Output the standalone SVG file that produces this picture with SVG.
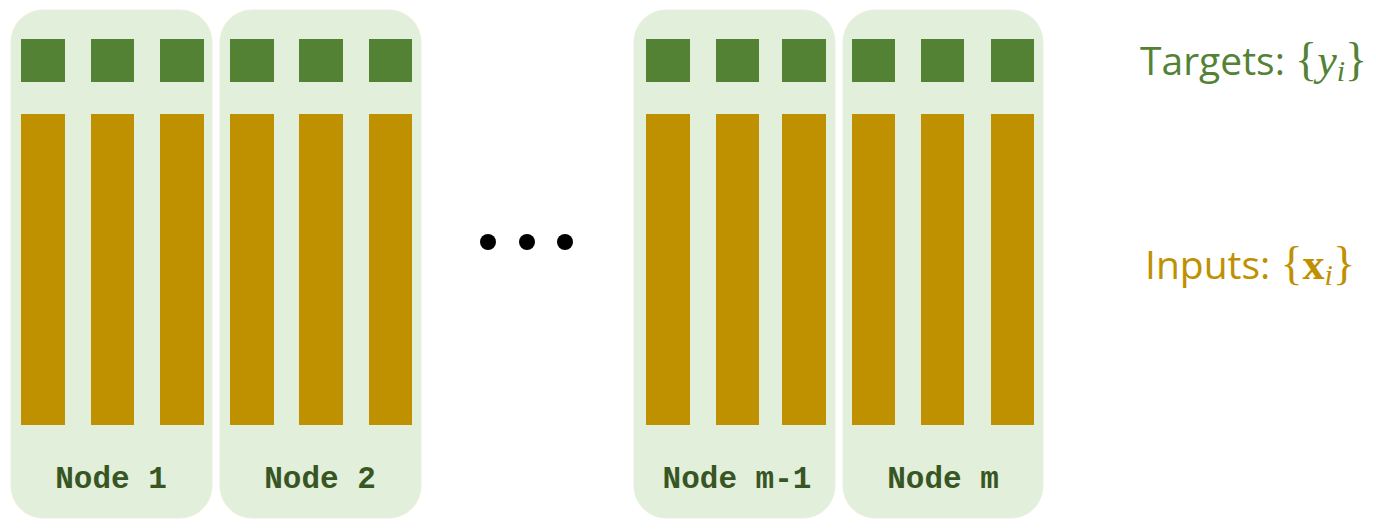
<svg xmlns="http://www.w3.org/2000/svg" width="1376" height="531" viewBox="0 0 1376 531">
<style>
.box{fill:#E2EFDA;stroke:#E6F1DF;stroke-width:1}
.t{fill:#548235}
.x{fill:#BF9000}
.lbl{font-family:"Courier New","Liberation Mono",monospace;font-weight:bold;font-size:31px;fill:#375623;text-anchor:middle}
.side{font-family:"Open Sans","Noto Sans","Liberation Sans",sans-serif;font-size:39px}
.math{font-family:"Liberation Serif","DejaVu Serif",serif}
</style>
<rect width="1376" height="531" fill="#fff"/>
<g id="node1">
<rect class="box" x="11" y="10" width="201" height="508" rx="32"/>
<rect class="t" x="21" y="39" width="44" height="43"/><rect class="t" x="91" y="39" width="43" height="43"/><rect class="t" x="160" y="39" width="44" height="43"/>
<rect class="x" x="21" y="114" width="44" height="311"/><rect class="x" x="91" y="114" width="43" height="311"/><rect class="x" x="160" y="114" width="44" height="311"/>
<text class="lbl" x="111" y="488">Node 1</text>
</g>
<g id="node2">
<rect class="box" x="220" y="10" width="201" height="508" rx="32"/>
<rect class="t" x="230" y="39" width="44" height="43"/><rect class="t" x="299" y="39" width="44" height="43"/><rect class="t" x="369" y="39" width="43" height="43"/>
<rect class="x" x="230" y="114" width="44" height="311"/><rect class="x" x="299" y="114" width="44" height="311"/><rect class="x" x="369" y="114" width="43" height="311"/>
<text class="lbl" x="320" y="488">Node 2</text>
</g>
<g id="ellipsis">
<circle cx="488" cy="242" r="8"/><circle cx="527" cy="242" r="8"/><circle cx="565" cy="242" r="8"/>
</g>
<g id="nodem1">
<rect class="box" x="634" y="10" width="201" height="508" rx="32"/>
<rect class="t" x="646" y="39" width="44" height="43"/><rect class="t" x="716" y="39" width="43" height="43"/><rect class="t" x="782" y="39" width="44" height="43"/>
<rect class="x" x="646" y="114" width="44" height="311"/><rect class="x" x="716" y="114" width="43" height="311"/><rect class="x" x="782" y="114" width="44" height="311"/>
<text class="lbl" x="737" y="488">Node m-1</text>
</g>
<g id="nodem">
<rect class="box" x="843" y="10" width="200" height="508" rx="32"/>
<rect class="t" x="852" y="39" width="43" height="43"/><rect class="t" x="921" y="39" width="43" height="43"/><rect class="t" x="991" y="39" width="43" height="43"/>
<rect class="x" x="852" y="114" width="43" height="311"/><rect class="x" x="921" y="114" width="43" height="311"/><rect class="x" x="991" y="114" width="43" height="311"/>
<text class="lbl" x="943" y="488">Node m</text>
</g>
<g id="legend">
<text class="side" x="1140" y="75" fill="#548235">Targets: <tspan class="math" font-size="46">{</tspan><tspan class="math" font-style="italic" font-size="44">y</tspan><tspan class="math" font-style="italic" font-size="30" dy="6">i</tspan><tspan class="math" font-size="46" dy="-6">}</tspan></text>
<text class="side" x="1145" y="279" fill="#BF9000">Inputs: <tspan class="math" font-size="46">{</tspan><tspan class="math" font-weight="bold" font-size="44">x</tspan><tspan class="math" font-style="italic" font-size="30" dy="6">i</tspan><tspan class="math" font-size="46" dy="-6">}</tspan></text>
</g>
</svg>
